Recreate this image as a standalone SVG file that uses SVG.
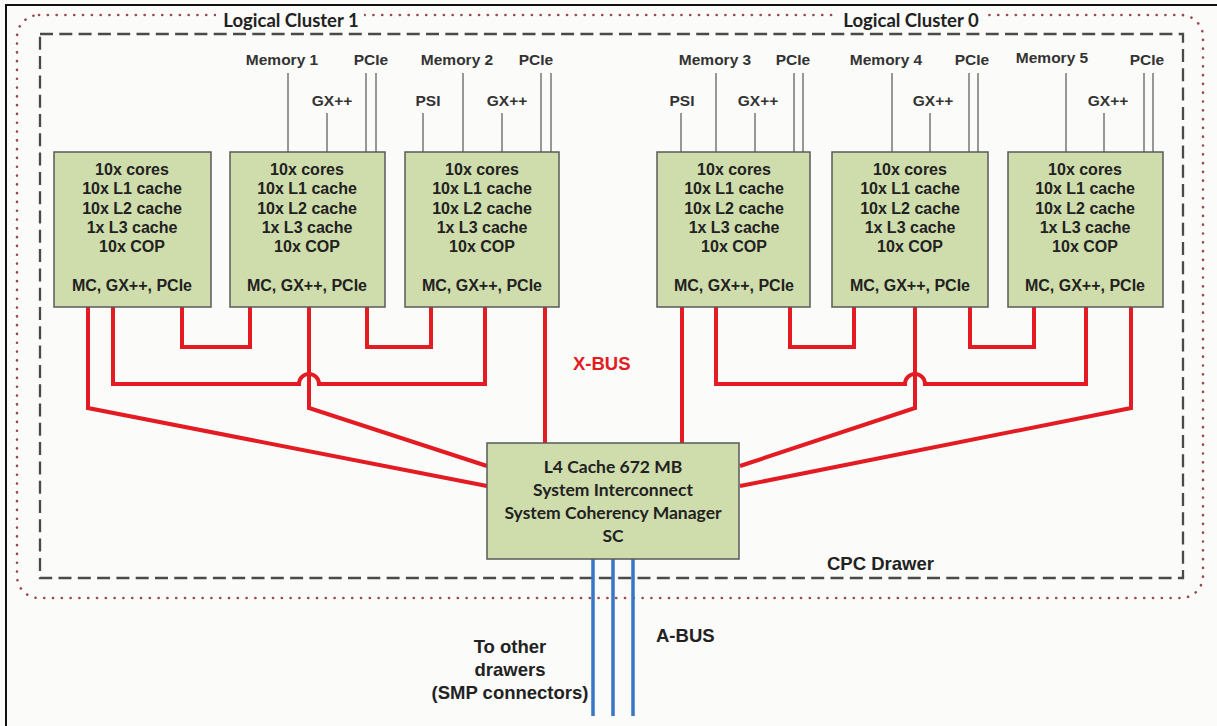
<svg xmlns="http://www.w3.org/2000/svg" width="1217" height="726" viewBox="0 0 1217 726">
<style>
.bg{fill:#fbfbf9}
.frame{fill:none;stroke:#111;stroke-width:2}
.drawer{fill:none;stroke:#4a4a4a;stroke-width:2.3;stroke-dasharray:13 6.3}
.cluster{fill:none;stroke:#9a4848;stroke-width:2.6;stroke-dasharray:0.1 8.7;stroke-linecap:round}
.box{fill:#cfdcab;stroke:#5a5a5a;stroke-width:1.5}
.t{font-family:"Liberation Sans",Arial,sans-serif;font-weight:bold;font-size:16px;fill:#222;text-anchor:middle}
.c{font-family:Lato,"Open Sans",sans-serif;font-weight:bold;font-size:17.5px;fill:#222;text-anchor:middle}
.h{font-family:Lato,"Open Sans",sans-serif;font-weight:bold;font-size:18.5px;fill:#222;text-anchor:middle}
.lbl{font-family:"Liberation Sans",Arial,sans-serif;font-weight:bold;font-size:15.5px;fill:#333;text-anchor:middle}
.big{font-family:"Liberation Sans",Arial,sans-serif;font-weight:bold;font-size:18.5px;fill:#222}
.stub{stroke:#555;stroke-width:1.2;fill:none}
.x{stroke:#e31b23;stroke-width:4;fill:none;stroke-linejoin:miter}
.a{stroke:#3a76c6;stroke-width:3.5;fill:none}
</style>
<rect class="bg" x="0" y="0" width="1217" height="726"/>
<path class="frame" d="M6,726 V5 H1217"/>

<g id="cpc-drawer">
<rect class="cluster" x="17" y="15" width="1186" height="583" rx="22"/>
<rect class="drawer" x="40" y="34" width="1143" height="544"/>
<text class="big" x="827" y="570">CPC Drawer</text>
</g>

<g id="cluster-1-label">
<rect x="216" y="7" width="148" height="18" fill="#fbfbf9"/>
<text class="h" x="291" y="27">Logical Cluster 1</text>
</g>
<g id="cluster-0-label">
<rect x="836" y="7" width="148" height="18" fill="#fbfbf9"/>
<text class="h" x="911" y="27">Logical Cluster 0</text>
</g>

<g id="io-stubs">
<path class="stub" d="M288,73V152 M327,113V152 M366,73V152 M376,73V152"/>
<path class="stub" d="M423,113V152 M463,73V152 M502,113V152 M541,73V152 M551,73V152"/>
<path class="stub" d="M681,113V152 M716,73V152 M755,113V152 M794,73V152 M803,73V152"/>
<path class="stub" d="M892,73V152 M930,113V152 M969,73V152 M978,73V152"/>
<path class="stub" d="M1066,73V152 M1104,113V152 M1144,73V152 M1153,73V152"/>
<text class="lbl" x="282" y="65">Memory 1</text>
<text class="lbl" x="332" y="106">GX++</text>
<text class="lbl" x="371" y="65">PCIe</text>
<text class="lbl" x="428" y="106">PSI</text>
<text class="lbl" x="457" y="65">Memory 2</text>
<text class="lbl" x="507" y="106">GX++</text>
<text class="lbl" x="536" y="65">PCIe</text>
<text class="lbl" x="682" y="106">PSI</text>
<text class="lbl" x="715" y="65">Memory 3</text>
<text class="lbl" x="758" y="106">GX++</text>
<text class="lbl" x="793" y="65">PCIe</text>
<text class="lbl" x="886" y="65">Memory 4</text>
<text class="lbl" x="933" y="106">GX++</text>
<text class="lbl" x="972" y="65">PCIe</text>
<text class="lbl" x="1052" y="63">Memory 5</text>
<text class="lbl" x="1108" y="106">GX++</text>
<text class="lbl" x="1147" y="65">PCIe</text>
</g>

<g id="connectors">
<path class="x" d="M182,307V347H250V307"/>
<path class="x" d="M367,307V347H431V307"/>
<path class="x" d="M790,307V347H854V307"/>
<path class="x" d="M970,307V347H1034V307"/>
<path class="x" d="M113,307V384H299A10,10 0 0 1 319,384H485V307"/>
<path class="x" d="M716,307V384H905A10,10 0 0 1 925,384H1086V307"/>
<path class="x" d="M88,307V408L487,486"/>
<path class="x" d="M309,307V408L487,466"/>
<path class="x" d="M545,307V443"/>
<path class="x" d="M682,307V443"/>
<path class="x" d="M915,307V408L740,466"/>
<path class="x" d="M1131,307V408L740,486"/>
<text class="big" x="573" y="370" style="fill:#e31b23">X-BUS</text>
<path class="a" d="M593,559V716 M613,559V716 M633,559V716"/>
<text class="big" x="656" y="642">A-BUS</text>
<text class="big" x="510" y="653" text-anchor="middle">To other</text>
<text class="big" x="510" y="676" text-anchor="middle">drawers</text>
<text class="big" x="510" y="699" text-anchor="middle">(SMP connectors)</text>
</g>

<g id="cp1">
<rect class="box" x="54" y="152" width="157" height="155"/>
<text class="t" x="132" y="175">10x cores</text><text class="t" x="132" y="194">10x L1 cache</text><text class="t" x="132" y="214">10x L2 cache</text><text class="t" x="132" y="233">1x L3 cache</text><text class="t" x="132" y="252">10x COP</text><text class="t" x="132" y="291">MC, GX++, PCIe</text>
</g>
<g id="cp2">
<rect class="box" x="230" y="152" width="155" height="155"/>
<text class="t" x="307" y="175">10x cores</text><text class="t" x="307" y="194">10x L1 cache</text><text class="t" x="307" y="214">10x L2 cache</text><text class="t" x="307" y="233">1x L3 cache</text><text class="t" x="307" y="252">10x COP</text><text class="t" x="307" y="291">MC, GX++, PCIe</text>
</g>
<g id="cp3">
<rect class="box" x="405" y="152" width="154" height="155"/>
<text class="t" x="482" y="175">10x cores</text><text class="t" x="482" y="194">10x L1 cache</text><text class="t" x="482" y="214">10x L2 cache</text><text class="t" x="482" y="233">1x L3 cache</text><text class="t" x="482" y="252">10x COP</text><text class="t" x="482" y="291">MC, GX++, PCIe</text>
</g>
<g id="cp4">
<rect class="box" x="657" y="152" width="153" height="155"/>
<text class="t" x="734" y="175">10x cores</text><text class="t" x="734" y="194">10x L1 cache</text><text class="t" x="734" y="214">10x L2 cache</text><text class="t" x="734" y="233">1x L3 cache</text><text class="t" x="734" y="252">10x COP</text><text class="t" x="734" y="291">MC, GX++, PCIe</text>
</g>
<g id="cp5">
<rect class="box" x="832" y="152" width="156" height="155"/>
<text class="t" x="910" y="175">10x cores</text><text class="t" x="910" y="194">10x L1 cache</text><text class="t" x="910" y="214">10x L2 cache</text><text class="t" x="910" y="233">1x L3 cache</text><text class="t" x="910" y="252">10x COP</text><text class="t" x="910" y="291">MC, GX++, PCIe</text>
</g>
<g id="cp6">
<rect class="box" x="1008" y="152" width="155" height="155"/>
<text class="t" x="1085" y="175">10x cores</text><text class="t" x="1085" y="194">10x L1 cache</text><text class="t" x="1085" y="214">10x L2 cache</text><text class="t" x="1085" y="233">1x L3 cache</text><text class="t" x="1085" y="252">10x COP</text><text class="t" x="1085" y="291">MC, GX++, PCIe</text>
</g>
<g id="sc">
<rect class="box" x="487" y="443" width="252" height="116"/>
<text class="c" x="613" y="473">L4 Cache 672 MB</text>
<text class="c" x="613" y="496">System Interconnect</text>
<text class="c" x="613" y="519">System Coherency Manager</text>
<text class="c" x="613" y="542">SC</text>
</g>
</svg>
